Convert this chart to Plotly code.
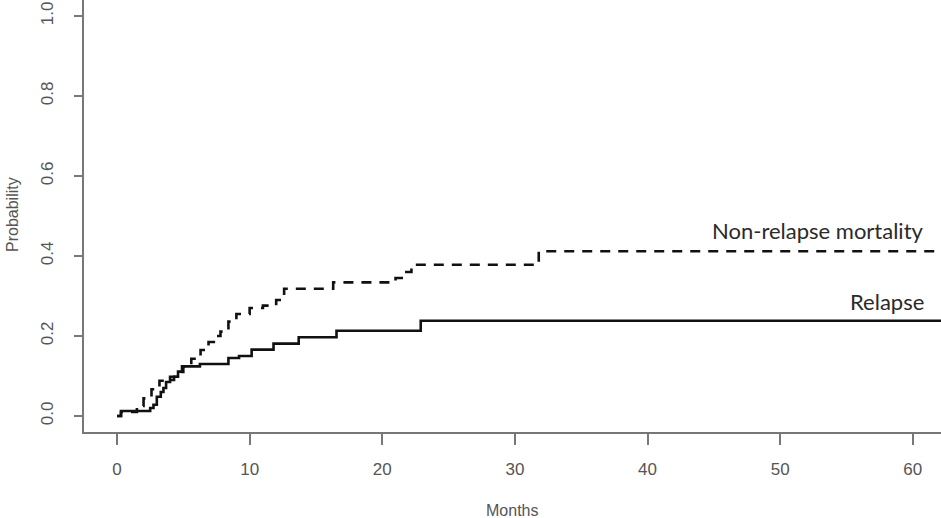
import plotly.graph_objects as go

# Data (months, cumulative incidence)
relapse_t = [0, 0.3, 2.5, 2.75, 3.0, 3.3, 3.5, 3.7, 4.0, 4.3, 4.6, 4.9, 6.25, 8.4, 9.2, 10.15, 11.8, 13.7, 16.55, 22.9, 62.5]
relapse_p = [0, 0.0125, 0.02, 0.028, 0.048, 0.06, 0.07, 0.085, 0.09, 0.098, 0.111, 0.124, 0.13, 0.145, 0.15, 0.166, 0.181, 0.197, 0.213, 0.238, 0.238]

nrm_t = [0, 0.3, 1.5, 2.0, 2.6, 3.2, 4.0, 4.5, 5.0, 5.6, 6.3, 6.9, 7.3, 7.8, 8.4, 9.0, 10.0, 11.0, 12.0, 12.6, 16.3, 21.0, 21.6, 22.2, 31.8, 62.5]
nrm_p = [0, 0.01, 0.025, 0.044, 0.067, 0.088, 0.098, 0.11, 0.124, 0.143, 0.165, 0.185, 0.2, 0.211, 0.236, 0.255, 0.27, 0.276, 0.29, 0.318, 0.334, 0.345, 0.36, 0.378, 0.412, 0.412]

x_ticks = [0, 10, 20, 30, 40, 50, 60]
y_ticks = [0.0, 0.2, 0.4, 0.6, 0.8, 1.0]
y_tick_text = ["0.0", "0.2", "0.4", "0.6", "0.8", "1.0"]

labels = ["Non-relapse mortality", "Relapse"]
label_x = [61.0, 61.0]
label_y = [0.464, 0.286]

fig = go.Figure()
fig.add_trace(go.Scatter(x=nrm_t, y=nrm_p, mode="lines", line_shape="hv",
                         line=dict(color="#111111", width=2.6, dash="10px,8px"),
                         showlegend=False, name="Non-relapse mortality"))
fig.add_trace(go.Scatter(x=relapse_t, y=relapse_p, mode="lines", line_shape="hv",
                         line=dict(color="#111111", width=2.6),
                         showlegend=False, name="Relapse"))

for txt, lx, ly in zip(labels, label_x, label_y):
    fig.add_annotation(x=lx, y=ly, xref="x", yref="y", text=txt, showarrow=False,
                       xanchor="right", yanchor="middle",
                       font=dict(family="Lato, Open Sans, sans-serif", size=22, color="#2a2a2a"))

tick_font = dict(family="Liberation Sans Narrow, Liberation Sans, Arial", size=17, color="#555555")

fig.add_annotation(x=(12 - 84) / 857, y=(432 - 215) / 432, xref="paper", yref="paper",
                   text="Probability", textangle=-90, showarrow=False,
                   xanchor="center", yanchor="middle",
                   font=dict(family="Liberation Sans Narrow, Liberation Sans, Arial", size=16, color="#555555"))
fig.add_annotation(x=(512 - 84) / 857, y=(432 - 510) / 432, xref="paper", yref="paper",
                   text="Months", showarrow=False,
                   xanchor="center", yanchor="middle",
                   font=dict(family="Liberation Sans Narrow, Liberation Sans, Arial", size=16, color="#555555"))

fig.update_layout(
    width=941, height=518,
    margin=dict(l=84, r=0, t=0, b=86, autoexpand=False),
    plot_bgcolor="white", paper_bgcolor="white",
    xaxis=dict(range=[-2.49, 62.13], tickvals=x_ticks, showgrid=False, zeroline=False,
               showline=True, linecolor="#777777", linewidth=2, automargin=False,
               ticks="outside", ticklen=11, tickwidth=1.5, tickcolor="#777777",
               tickfont=tick_font, ticklabelstandoff=10),
    yaxis=dict(range=[-0.04, 1.04], tickvals=y_ticks, ticktext=y_tick_text, showgrid=False, zeroline=False,
               showline=True, linecolor="#777777", linewidth=2, automargin=False,
               ticks="outside", ticklen=8, tickwidth=1.5, tickcolor="#777777",
               tickangle=-90, tickfont=tick_font, ticklabelstandoff=14),
)

fig.write_html("out.html", config={"displayModeBar": False},
               post_script="document.body.style.margin='0';document.body.style.overflow='hidden';")
